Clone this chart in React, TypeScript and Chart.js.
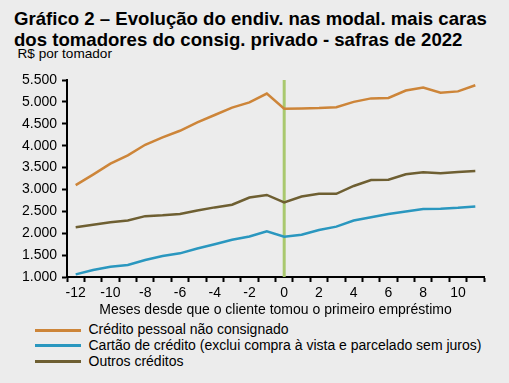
import React, { useEffect, useRef } from 'react';
import { Chart, registerables } from 'chart.js';

Chart.register(...registerables);

const months = ['-12', '-11', '-10', '-9', '-8', '-7', '-6', '-5', '-4', '-3', '-2', '-1', '0', '1', '2', '3', '4', '5', '6', '7', '8', '9', '10', '11'];
const creditoPessoal = [3100, 3340, 3590, 3780, 4020, 4190, 4340, 4530, 4700, 4870, 4990, 5190, 4845, 4850, 4860, 4880, 5000, 5080, 5090, 5260, 5330, 5210, 5240, 5380];
const cartaoCredito = [1060, 1160, 1235, 1275, 1390, 1480, 1540, 1650, 1750, 1850, 1925, 2045, 1920, 1965, 2075, 2150, 2290, 2365, 2440, 2495, 2555, 2560, 2580, 2610];
const outrosCreditos = [2135, 2195, 2250, 2290, 2390, 2410, 2440, 2520, 2590, 2650, 2815, 2875, 2705, 2840, 2900, 2900, 3080, 3215, 3220, 3345, 3395, 3370, 3400, 3420];
const markerMonth = '0';
const yMin = 1000;
const yMax = 5500;
const yStep = 500;

const seriesNames = [
  'Crédito pessoal não consignado',
  'Cartão de crédito (exclui compra à vista e parcelado sem juros)',
  'Outros créditos',
];
const seriesColors = ['#CD8539', '#2A97BF', '#6E5F32'];
const markerColor = '#A9C86E';
const FONT = '"Liberation Sans", Arial, Helvetica, sans-serif';

function fmt(v: number): string {
  const s = String(Math.round(v));
  return s.replace(/\B(?=(\d{3})+(?!\d))/g, '.');
}

const markerPlugin = {
  id: 'markerLine',
  beforeDatasetsDraw(chart: any) {
    const x = chart.scales.x.getPixelForValue(months.indexOf(markerMonth));
    const { top, bottom } = chart.chartArea;
    const ctx = chart.ctx;
    ctx.save();
    ctx.strokeStyle = markerColor;
    ctx.lineWidth = 3;
    ctx.beginPath();
    ctx.moveTo(x, top);
    ctx.lineTo(x, bottom);
    ctx.stroke();
    ctx.restore();
  },
};

export default function App() {
  const ref = useRef<HTMLCanvasElement | null>(null);

  useEffect(() => {
    if (!ref.current) return;
    const series = [creditoPessoal, cartaoCredito, outrosCreditos];
    const chart = new Chart(ref.current, {
      type: 'line',
      data: {
        labels: months,
        datasets: series.map((d, i) => ({
          label: seriesNames[i],
          data: d,
          borderColor: seriesColors[i],
          backgroundColor: seriesColors[i],
          borderWidth: 2.5,
          pointRadius: 0,
          tension: 0,
          fill: false,
        })),
      },
      options: {
        responsive: false,
        animation: false,
        layout: { padding: { left: 0, right: 25, top: 16, bottom: 0 } },
        plugins: {
          legend: { display: false },
          title: { display: false },
          tooltip: { enabled: false },
        },
        scales: {
          x: {
            type: 'category',
            offset: true,
            grid: {
              offset: true,
              drawOnChartArea: false,
              drawTicks: true,
              tickLength: 5,
              tickWidth: 2,
              tickColor: '#000',
            },
            border: { display: true, color: '#000', width: 2 },
            ticks: {
              autoSkip: false,
              maxRotation: 0,
              padding: 3,
              color: '#000',
              font: { family: FONT, size: 14 },
              callback: function (this: any, value: any, index: number) {
                return index % 2 === 0 ? this.getLabelForValue(value) : '';
              },
            },
            title: {
              display: true,
              text: 'Meses desde que o cliente tomou o primeiro empréstimo',
              color: '#000',
              font: { family: FONT, size: 14 },
              padding: { top: 0, bottom: 1 },
            },
            afterFit: (s: any) => {
              s.height = 43;
            },
          },
          y: {
            min: yMin,
            max: yMax,
            grid: {
              drawOnChartArea: false,
              drawTicks: true,
              tickLength: 5,
              tickWidth: 2,
              tickColor: '#000',
            },
            border: { display: true, color: '#000', width: 2 },
            ticks: {
              stepSize: yStep,
              padding: 5,
              color: '#000',
              font: { family: FONT, size: 14 },
              callback: (v: any) => fmt(Number(v)),
            },
            afterFit: (s: any) => {
              s.width = 67;
            },
          },
        },
      },
      plugins: [markerPlugin],
    } as any);
    return () => chart.destroy();
  }, []);

  return (
    <div
      style={{
        position: 'fixed',
        left: 0,
        top: 0,
        width: 509,
        height: 383,
        background: '#ECECEC',
        fontFamily: FONT,
        color: '#000',
        overflow: 'hidden',
      }}
    >
      <div
        style={{
          position: 'absolute',
          left: 14,
          top: 7.5,
          fontSize: 18.6,
          fontWeight: 'bold',
          lineHeight: '21px',
          whiteSpace: 'nowrap',
        }}
      >
        <div>Gráfico 2 – Evolução do endiv. nas modal. mais caras</div>
        <div>dos tomadores do consig. privado - safras de 2022</div>
      </div>
      <div
        style={{
          position: 'absolute',
          left: 17.5,
          top: 46,
          fontSize: 13.6,
          lineHeight: '15px',
          whiteSpace: 'nowrap',
        }}
      >
        R$ por tomador
      </div>
      <div style={{ position: 'absolute', left: 0, top: 64, width: 509, height: 256 }}>
        <canvas ref={ref} width={509} height={256} style={{ display: 'block' }} />
      </div>
      <div style={{ position: 'absolute', left: 35, top: 322.3 }}>
        {seriesNames.map((name, i) => (
          <div
            key={name}
            style={{
              display: 'flex',
              alignItems: 'center',
              height: 15.8,
              fontSize: 14,
              lineHeight: '15.8px',
              whiteSpace: 'nowrap',
            }}
          >
            <div style={{ width: 46, height: 3, background: seriesColors[i], marginRight: 7.5 }} />
            <span>{name}</span>
          </div>
        ))}
      </div>
    </div>
  );
}
